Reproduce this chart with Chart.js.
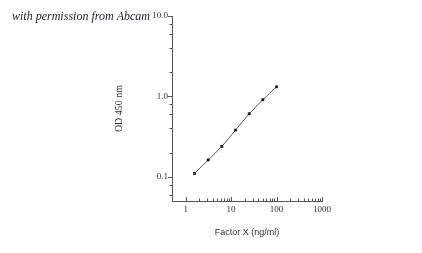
<!DOCTYPE html>
<html>
<head>
<meta charset="utf-8">
<script src="https://cdn.jsdelivr.net/npm/chart.js@4/dist/chart.umd.min.js"></script>
<style>
  html, body { margin: 0; padding: 0; background: #ffffff; }
  #wrap { position: relative; width: 422px; height: 253px; }
  canvas { display: block; }
</style>
</head>
<body>
<div id="wrap"><canvas id="c" width="422" height="253"></canvas></div>
<script>
// ---- data ----
const concentrations = [1.5625, 3.125, 6.25, 12.5, 25, 50, 100];
const odValues = [0.110, 0.162, 0.239, 0.381, 0.608, 0.908, 1.316];
const xMajorTicks = [1, 10, 100, 1000];
const xTickLabels = ['1', '10', '100', '1000'];
const yMajorTicks = [0.1, 1, 10];
const yTickLabels = ['0.1', '1.0', '10.0'];
const xTitle = 'Factor X (ng/ml)';
const yTitle = 'OD 450 nm';
const noteText = 'with permission from Abcam';

// minor tick positions
const xMinorTicks = [];
[1, 10, 100].forEach(d => { for (let k = 2; k <= 9; k++) xMinorTicks.push(d * k); });
const yMinorTicks = [0.06, 0.08];
[0.1, 1].forEach(d => { [2, 4, 6, 8].forEach(k => yMinorTicks.push(+(d * k).toFixed(3))); });

const points = concentrations.map((c, i) => ({ x: c, y: odValues[i] }));

const PAD_LEFT = 109, AXIS_LEFT = 172, AXIS_BOTTOM = 201;

const tickPlugin = {
  id: 'tickPlugin',
  afterDraw(chart) {
    const ctx = chart.ctx;
    const xs = chart.scales.x, ys = chart.scales.y;
    const area = chart.chartArea;
    ctx.save();
    ctx.strokeStyle = '#555';
    ctx.lineWidth = 1;
    ctx.beginPath();
    xMajorTicks.forEach(v => {
      const px = Math.round(xs.getPixelForValue(v)) + 0.5;
      ctx.moveTo(px, area.bottom); ctx.lineTo(px, area.bottom - 4);
    });
    xMinorTicks.forEach(v => {
      const px = Math.round(xs.getPixelForValue(v)) + 0.5;
      ctx.moveTo(px, area.bottom); ctx.lineTo(px, area.bottom - 2.5);
    });
    yMajorTicks.forEach(v => {
      const py = Math.round(ys.getPixelForValue(v)) + 0.5;
      ctx.moveTo(area.left, py); ctx.lineTo(area.left - 4, py);
    });
    yMinorTicks.forEach(v => {
      const py = Math.round(ys.getPixelForValue(v)) + 0.5;
      ctx.moveTo(area.left, py); ctx.lineTo(area.left - 2.5, py);
    });
    ctx.stroke();

    // permission note
    ctx.fillStyle = '#1b1b30';
    ctx.font = 'italic 12px "Liberation Serif"';
    ctx.textBaseline = 'alphabetic';
    const w = ctx.measureText(noteText).width;
    const target = 138;
    ctx.translate(12, 19.5);
    ctx.scale(target / w, 1);
    ctx.fillText(noteText, 0, 0);
    ctx.restore();
  }
};

new Chart(document.getElementById('c'), {
  type: 'scatter',
  data: {
    datasets: [{
      data: points,
      showLine: true,
      borderColor: '#555',
      borderWidth: 1,
      cubicInterpolationMode: 'monotone',
      pointStyle: 'rect',
      pointRadius: 1.6,
      pointBackgroundColor: '#111',
      pointBorderColor: '#111',
      pointBorderWidth: 0.5
    }]
  },
  options: {
    responsive: false,
    animation: false,
    devicePixelRatio: 1,
    layout: { padding: { left: PAD_LEFT, right: 100, top: 16, bottom: 0 } },
    plugins: { legend: { display: false }, tooltip: { enabled: false }, title: { display: false } },
    scales: {
      x: {
        type: 'logarithmic',
        min: 0.5,
        max: 1000,
        afterBuildTicks(scale) {
          scale.ticks = xMajorTicks.map(v => ({ value: v, major: true }));
        },
        afterFit(scale) { scale.height = 253 - AXIS_BOTTOM; },
        grid: { display: true, drawOnChartArea: false, drawTicks: false },
        border: { display: true, color: '#555', width: 1 },
        ticks: {
          autoSkip: false,
          maxRotation: 0,
          padding: 3,
          color: '#333',
          font: { family: '"Liberation Serif"', size: 9 },
          callback(value) {
            const i = xMajorTicks.indexOf(value);
            return i >= 0 ? xTickLabels[i] : '';
          }
        },
        title: {
          display: true,
          text: xTitle,
          color: '#333',
          font: { family: '"Liberation Sans"', size: 9 },
          padding: { top: 0, bottom: 15.5 }
        }
      },
      y: {
        type: 'logarithmic',
        min: 0.05,
        max: 10,
        afterBuildTicks(scale) {
          scale.ticks = yMajorTicks.map(v => ({ value: v, major: true }));
        },
        afterFit(scale) { scale.width = AXIS_LEFT - PAD_LEFT; },
        grid: { display: true, drawOnChartArea: false, drawTicks: false },
        border: { display: true, color: '#555', width: 1 },
        ticks: {
          autoSkip: false,
          padding: 4,
          color: '#333',
          font: { family: '"Liberation Serif"', size: 9 },
          callback(value) {
            const i = yMajorTicks.indexOf(value);
            return i >= 0 ? yTickLabels[i] : '';
          }
        },
        title: {
          display: true,
          text: yTitle,
          color: '#333',
          font: { family: '"Liberation Serif"', size: 10 },
          padding: { top: 4, bottom: 0 }
        }
      }
    }
  },
  plugins: [tickPlugin]
});
</script>
</body>
</html>
